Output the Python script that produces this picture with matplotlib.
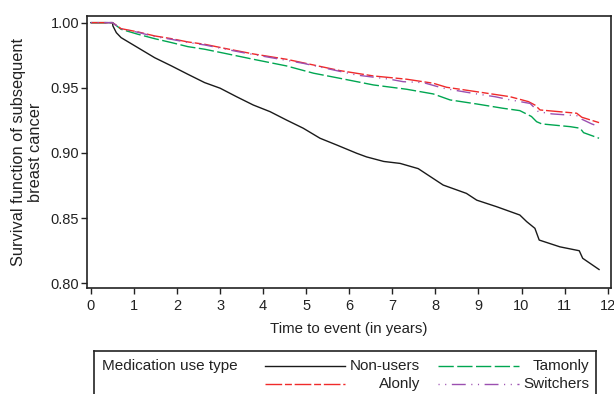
import matplotlib
matplotlib.use("Agg")
import matplotlib.pyplot as plt

plt.rcParams['font.family'] = ['Liberation Sans', 'DejaVu Sans']

# Kaplan-Meier style survival curves
t_non = [0, 0.5, 0.51, 0.59, 0.70, 1.09, 1.48, 1.87, 2.25, 2.64, 3.00, 3.38, 3.77, 4.16,
         4.54, 4.93, 5.32, 5.71, 6.17, 6.40, 6.80, 7.18, 7.60, 8.18, 8.72, 8.96, 9.42,
         9.96, 10.12, 10.31, 10.41, 10.89, 11.34, 11.42, 11.80]
s_non = [1.0, 1.0, 0.9975, 0.9923, 0.9885, 0.9808, 0.9731, 0.9668, 0.9604, 0.9540, 0.9497,
         0.9432, 0.9368, 0.9317, 0.9253, 0.9190, 0.9113, 0.9061, 0.8998, 0.8970, 0.8935,
         0.8920, 0.8880, 0.8754, 0.8690, 0.8638, 0.8588, 0.8524, 0.8473, 0.8422, 0.8332,
         0.8280, 0.8250, 0.8192, 0.8106]

t_tam = [0, 0.5, 0.70, 1.09, 1.48, 1.87, 2.25, 2.64, 3.10, 3.77, 4.54, 5.17, 5.78, 6.56,
         7.33, 7.95, 8.34, 8.96, 9.57, 9.96, 10.08, 10.23, 10.35, 10.47, 11.13, 11.36,
         11.44, 11.80]
s_tam = [1.0, 1.0, 0.9949, 0.9911, 0.9877, 0.9847, 0.9816, 0.9796, 0.9765, 0.9719, 0.9668,
         0.9612, 0.9573, 0.9522, 0.9489, 0.9453, 0.9407, 0.9376, 0.9343, 0.9325, 0.9305,
         0.9280, 0.9240, 0.9223, 0.9202, 0.9190, 0.9156, 0.9113]

t_alo = [0, 0.5, 0.70, 1.09, 1.48, 1.87, 2.25, 2.64, 3.10, 3.77, 4.54, 5.17, 5.78, 6.56,
         7.33, 7.95, 8.26, 8.96, 9.73, 10.16, 10.31, 10.43, 11.28, 11.40, 11.80]
s_alo = [1.0, 1.0, 0.9954, 0.9929, 0.9898, 0.9877, 0.9852, 0.9834, 0.9803, 0.9760, 0.9719,
         0.9675, 0.9632, 0.9591, 0.9566, 0.9535, 0.9504, 0.9470, 0.9432, 0.9394, 0.9368,
         0.9330, 0.9305, 0.9274, 0.9233]

t_swi = [0, 0.5, 0.70, 1.09, 1.48, 1.87, 2.25, 2.64, 3.10, 3.61, 4.93, 6.17, 6.94, 7.25,
         7.72, 8.18, 8.65, 8.96, 9.38, 9.70, 10.20, 10.39, 10.70, 11.05, 11.32, 11.40,
         11.63, 11.78]
s_swi = [1.0, 1.0, 0.9952, 0.9926, 0.9893, 0.9872, 0.9848, 0.9829, 0.9798, 0.9765, 0.9688,
         0.9598, 0.9566, 0.9547, 0.9540, 0.9497, 0.9470, 0.9453, 0.9432, 0.9410, 0.9380,
         0.9317, 0.9300, 0.9292, 0.9285, 0.9259, 0.9223, 0.9205]

labels = ['Non-users', 'Tamonly', 'Alonly', 'Switchers']
colors = ['#1a1a1a', '#00a651', '#f02a2a', '#9b4fb0']
styles = ['-', (0, (11, 2.5)), (0, (12, 2, 5, 2)), (0, (0.8, 4, 0.8, 4, 10, 4))]
series = [(t_non, s_non), (t_tam, s_tam), (t_alo, s_alo), (t_swi, s_swi)]

fig = plt.figure(figsize=(6.14, 3.94), dpi=100)
ax = fig.add_axes([0.1425, 0.269, 0.8521, 0.6904])

for (t, s), c, ls in zip(series, colors, styles):
    ax.plot(t, s, color=c, linestyle=ls, linewidth=1.0)

ax.set_xlim(-0.08, 12.07)
ax.set_ylim(0.7964, 1.0051)
ax.set_xticks(range(0, 13))
ax.set_yticks([0.80, 0.85, 0.90, 0.95, 1.00])
ax.set_yticklabels(['0.80', '0.85', '0.90', '0.95', '1.00'])
ax.tick_params(axis='x', length=4, width=1, pad=4, labelsize=10.5, colors='#222222')
ax.tick_params(axis='y', length=4, width=1, pad=2, labelsize=10.5, colors='#222222')
for sp in ax.spines.values():
    sp.set_linewidth(1.2)
    sp.set_color('#222222')

ax.set_xlabel('Time to event (in years)', fontsize=10.8, color='#222222')
ax.xaxis.set_label_coords(0.5, -0.125)
ax.set_ylabel('Survival function of subsequent\nbreast cancer', fontsize=11.8,
              color='#222222', multialignment='center', linespacing=1.2)
ax.yaxis.set_label_coords(-0.085, 0.5)

# legend drawn as its own box below the plot (bottom edge cut off like the source)
lax = fig.add_axes([94 / 614, 1 - 400 / 394, 502 / 614, 49.3 / 394])
lax.set_xlim(0, 502)
lax.set_ylim(49.3, 0)
lax.set_xticks([])
lax.set_yticks([])
for sp in lax.spines.values():
    sp.set_linewidth(1.2)
    sp.set_color('#222222')

lax.text(8, 15.3, 'Medication use type', fontsize=11, va='center', ha='left', color='#222222')
leg_cols = [(171, 251, 326), (344, 425, 495)]
leg_rows = [15.3, 33.3]
order = [(0, 0, 0), (1, 1, 0), (2, 0, 1), (3, 1, 1)]
for i, col, row in order:
    x0, x1, xt = leg_cols[col]
    y = leg_rows[row]
    lax.plot([x0, x1], [y, y], color=colors[i], linestyle=styles[i], linewidth=1.0)
    lax.text(xt, y, labels[i], fontsize=11, va='center', ha='right', color='#222222')

fig.savefig('out.png', dpi=100)
